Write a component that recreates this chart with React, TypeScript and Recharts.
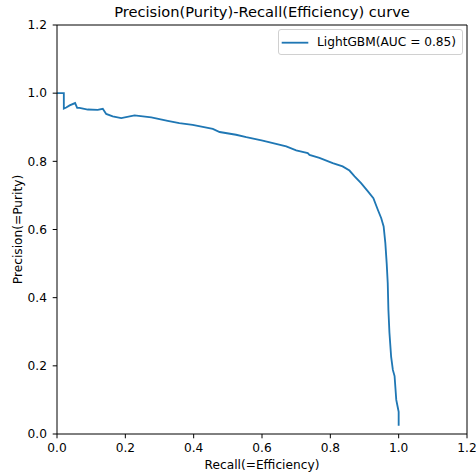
import React from 'react';
import { LineChart, Line, XAxis, YAxis, ReferenceLine, Legend } from 'recharts';

const recall = [0.0, 0.02, 0.02, 0.027, 0.037, 0.053, 0.059, 0.066, 0.09, 0.119, 0.134, 0.144, 0.163, 0.188, 0.227, 0.276, 0.324, 0.358, 0.397, 0.456, 0.476, 0.524, 0.554, 0.602, 0.641, 0.671, 0.7, 0.734, 0.739, 0.768, 0.807, 0.836, 0.856, 0.871, 0.89, 0.91, 0.926, 0.939, 0.949, 0.956, 0.961, 0.965, 0.968, 0.97, 0.973, 0.978, 0.983, 0.988, 0.993, 0.997, 1.0, 1.0];
const precision = [1.0, 1.0, 0.955, 0.958, 0.964, 0.971, 0.957, 0.957, 0.952, 0.951, 0.954, 0.939, 0.932, 0.927, 0.935, 0.929, 0.919, 0.912, 0.907, 0.895, 0.886, 0.878, 0.871, 0.861, 0.851, 0.844, 0.832, 0.824, 0.819, 0.81, 0.795, 0.785, 0.773, 0.756, 0.736, 0.712, 0.692, 0.658, 0.633, 0.609, 0.56, 0.5, 0.443, 0.364, 0.297, 0.226, 0.188, 0.17, 0.1, 0.08, 0.065, 0.024];
const ticks = [0, 0.2, 0.4, 0.6, 0.8, 1.0, 1.2];
const seriesName = 'LightGBM(AUC = 0.85)';
const title = 'Precision(Purity)-Recall(Efficiency) curve';
const xLabel = 'Recall(=Efficiency)';
const yLabel = 'Precision(=Purity)';

const data = recall.map((r, i) => ({ recall: r, precision: precision[i] }));

const FONT = '"DejaVu Sans", sans-serif';
const COLOR = '#1f77b4';
const FS = 12.2;

const LegendBox = () => (
  <div
    style={{
      position: 'absolute',
      left: 278,
      top: 29,
      width: 185,
      height: 26,
      boxSizing: 'border-box',
      border: '1px solid #d0d0d0',
      borderRadius: 3,
      background: 'rgba(255,255,255,0.8)',
      fontFamily: FONT,
      fontSize: FS,
      color: '#000',
    }}
  >
    <svg width={32} height={24} style={{ position: 'absolute', left: 0, top: 0 }}>
      <line x1={2.7} y1={12.7} x2={29.3} y2={12.7} stroke={COLOR} strokeWidth={1.83} />
    </svg>
    <span style={{ position: 'absolute', left: 38, top: 4.8, lineHeight: '15px', whiteSpace: 'nowrap' }}>
      {seriesName}
    </span>
  </div>
);

export default function App() {
  return (
    <div style={{ position: 'absolute', left: 0, top: 0, width: 476, height: 475, background: '#fff' }}>
      <div
        style={{
          position: 'absolute',
          left: 57,
          width: 410,
          top: 3.2,
          textAlign: 'center',
          fontFamily: FONT,
          fontSize: 14.65,
          lineHeight: '18px',
          color: '#000',
          whiteSpace: 'nowrap',
        }}
      >
        {title}
      </div>
      <LineChart width={476} height={475} data={data} margin={{ top: 25, right: 9, left: 0, bottom: 0 }}>
        <XAxis
          dataKey="recall"
          type="number"
          domain={[0, 1.2]}
          ticks={ticks}
          tickFormatter={(v: number) => v.toFixed(1)}
          height={41}
          tickSize={4.3}
          tickMargin={4.7}
          stroke="#000"
          tick={{ fill: '#000', fontSize: FS, fontFamily: FONT }}
          allowDataOverflow
          label={{ value: xLabel, position: 'insideBottom', offset: 6.3, fill: '#000', fontSize: FS, fontFamily: FONT }}
        />
        <YAxis
          dataKey="precision"
          type="number"
          domain={[0, 1.2]}
          ticks={ticks}
          tickFormatter={(v: number) => v.toFixed(1)}
          width={57}
          tickSize={4.3}
          tickMargin={5.7}
          stroke="#000"
          tick={{ fill: '#000', fontSize: FS, fontFamily: FONT }}
          allowDataOverflow
          label={{ value: yLabel, angle: -90, position: 'insideLeft', offset: 18, fill: '#000', fontSize: FS, fontFamily: FONT, style: { textAnchor: 'middle' } }}
        />
        <ReferenceLine y={1.2} stroke="#000" strokeWidth={1} />
        <ReferenceLine x={1.2} stroke="#000" strokeWidth={1} />
        <Legend content={() => <LegendBox />} wrapperStyle={{ position: 'absolute', left: 0, top: 0, width: 0, height: 0 }} />
        <Line
          type="linear"
          dataKey="precision"
          name={seriesName}
          stroke={COLOR}
          strokeWidth={1.83}
          dot={false}
          isAnimationActive={false}
        />
      </LineChart>
    </div>
  );
}
